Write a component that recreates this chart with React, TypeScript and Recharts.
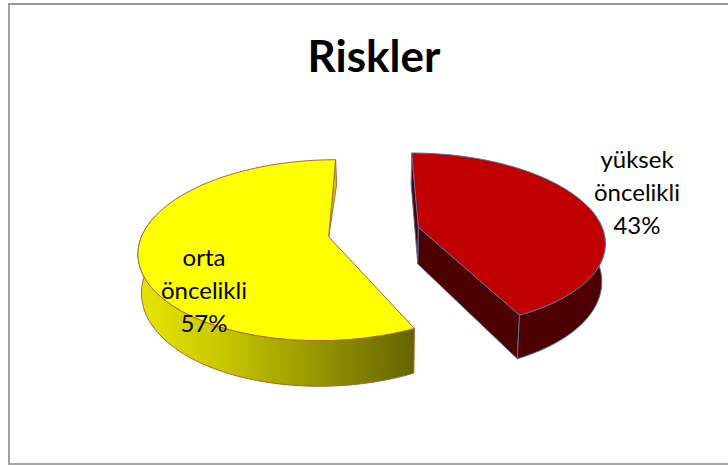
import React from "react";
import { PieChart, Pie } from "recharts";

const TITLE = "Riskler";
const sliceWords = [["yüksek", "öncelikli"], ["orta", "öncelikli"]];
const sliceValues = [43, 57];
const topColors = ["#C00000", "#FFFF00"];
const edgeColors = ["#5B6E9E", "#A8683C"];
const wallColors = ["#4D0000", "url(#yellowWall)"];
const labelDx = [263, -170];
const labelDy = [-36, 62];

const tableRows = sliceWords.map((w, i) => ({ name: w.join(" "), value: sliceValues[i], fill: topColors[i], idx: i }));

const EXPLODE = 0.25;
const PERSP = 0.18;
const FLATTEN = 0.466;
const DEPTH = 37;
const APEX_DROP = 3;
const FONT = "Lato, Carlito, sans-serif";

const rad = (d: number) => (d * Math.PI) / 180;

function makeProjector(cx: number, cy: number, R: number, mid: number) {
  const ox = EXPLODE * Math.sin(rad(mid));
  const oy = -EXPLODE * Math.cos(rad(mid));
  return (theta: number, rho: number, bottom: boolean) => {
    const u = ox + rho * Math.sin(rad(theta));
    const v = oy - rho * Math.cos(rad(theta));
    const w = 1 - PERSP * v;
    const shrink = bottom ? 0.985 : 1;
    const x = cx + (R * u * shrink) / w;
    const y = cy + (R * FLATTEN * v + (bottom ? DEPTH : 0)) / w + (rho === 0 ? APEX_DROP : 0);
    return [x, y] as [number, number];
  };
}

const toPath = (pts: [number, number][], close = true) =>
  "M" + pts.map((p) => `${p[0].toFixed(2)},${p[1].toFixed(2)}`).join("L") + (close ? "Z" : "");

function arcPts(a: number, b: number, f: (t: number) => [number, number]) {
  const n = Math.max(2, Math.ceil(Math.abs(b - a) / 2));
  const out: [number, number][] = [];
  for (let i = 0; i <= n; i++) out.push(f(a + ((b - a) * i) / n));
  return out;
}

function Slice3D(props: any) {
  const { cx, cy, outerRadius, startAngle, endAngle, idx, fill } = props;
  const s = 90 - startAngle;
  const e = 90 - endAngle;
  const mid = (s + e) / 2;
  const P = makeProjector(cx, cy, outerRadius, mid);
  const edge = edgeColors[idx];
  const wall = wallColors[idx];
  const top = (t: number) => P(t, 1, false);
  const bot = (t: number) => P(t, 1, true);
  const A = P(0, 0, false);
  const Ab = P(0, 0, true);

  const wa = Math.max(s, 78);
  const wb = Math.min(e, 282);
  const outerWall = [...arcPts(wa, wb, top), ...arcPts(wb, wa, bot)];
  const stroke = { stroke: edge, strokeWidth: 1, strokeLinejoin: "round" as const };

  return (
    <g>
      <defs>
        <linearGradient id="yellowWall" x1="0" y1="0" x2="1" y2="0">
          <stop offset="0" stopColor="#E6E600" />
          <stop offset="0.3" stopColor="#C8C800" />
          <stop offset="1" stopColor="#646400" />
        </linearGradient>
      </defs>
      {s === 0 && (
        <path d={toPath([top(s), bot(s), Ab, A])} fill={wall} {...stroke} />
      )}
      {e < 180 && <path d={toPath([A, Ab, bot(e), top(e)])} fill={wall} {...stroke} />}
      {e >= 359.9 && (
        <path
          d={toPath([top(e), [top(e)[0] + 1, top(e)[1] + 25], A])}
          fill="#C8C800"
          {...stroke}
        />
      )}
      <path d={toPath(outerWall)} fill={wall} {...stroke} />
      <path d={toPath([A, ...arcPts(s, e, top)])} fill={fill} {...stroke} />
    </g>
  );
}

function SliceLabel(props: any) {
  const { cx, cy, percent, idx } = props;
  const x = cx + labelDx[idx];
  const y = cy + labelDy[idx];
  const lines = [...sliceWords[idx], `${Math.round(percent * 100)}%`];
  return (
    <text x={x} y={y} textAnchor="middle" fontFamily={FONT} fontSize={24} fill="#000">
      {lines.map((l, i) => (
        <tspan key={l} x={x} y={y + (i - 1) * 33 + 8}>
          {l}
        </tspan>
      ))}
    </text>
  );
}

export default function App() {
  return (
    <div style={{ position: "absolute", left: 0, top: 0, width: 728, height: 465, overflow: "hidden", background: "#fff" }}>
      <div style={{ position: "absolute", left: 8, top: 3, width: 2, height: 462, background: "#A0A0A0" }} />
      <div style={{ position: "absolute", left: 8, top: 3, width: 720, height: 2, background: "#989898" }} />
      <div style={{ position: "absolute", left: 8, top: 463, width: 720, height: 2, background: "#A6A6A6" }} />
      <div style={{ position: "absolute", left: 0, top: 0 }}>
        <PieChart width={728} height={465} margin={{ top: 0, right: 0, bottom: 0, left: 0 }}>
          <text x={374} y={72} textAnchor="middle" fontFamily={FONT} fontWeight={700} fontSize={44} fill="#000">
            {TITLE}
          </text>
          <Pie
            data={tableRows}
            dataKey="value"
            nameKey="name"
            cx={374}
            cy={229}
            outerRadius={184}
            startAngle={90}
            endAngle={-270}
            isAnimationActive={false}
            shape={Slice3D}
            label={SliceLabel}
            labelLine={false}
            stroke="none"
          />
        </PieChart>
      </div>
    </div>
  );
}
